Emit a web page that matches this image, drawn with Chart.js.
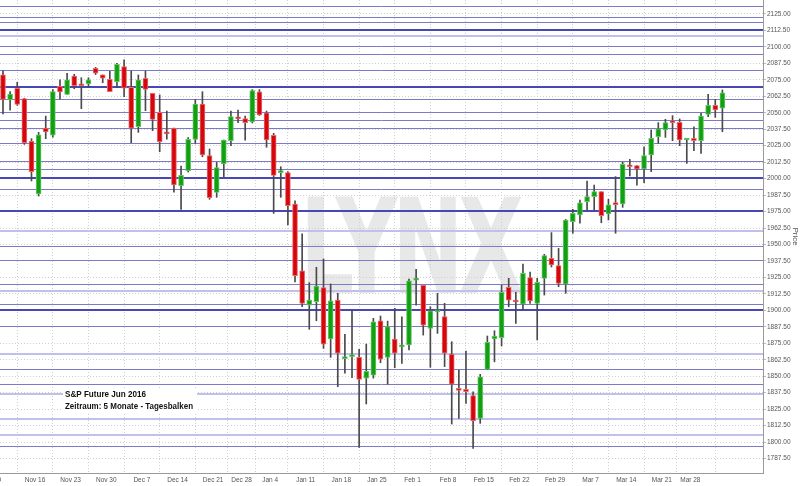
<!DOCTYPE html>
<html>
<head>
<meta charset="utf-8">
<script src="https://cdn.jsdelivr.net/npm/chart.js@4.4.1/dist/chart.umd.min.js"></script>
<style>
  html, body { margin: 0; padding: 0; background: #fff; }
  canvas { display: block; }
</style>
</head>
<body>
<canvas id="chart" width="800" height="486"></canvas>
<script>
// ── daily bars, S&P Future Jun 2016 (Nov 9 – Apr 1) ──
const opens = [2078.7,2059.7,2068.6,2060.7,2028.3,1988.3,2038.4,2032.9,2070.1,2064,
  2077.9,2071.2,2071.8,2083.7,2078.7,2075.4,2073.6,2085,2069.3,2039.4,
  2076.2,2064.8,2050.4,2035,2038.4,1994.6,2006,2029.8,2056.6,2017.4,
  1989.6,2011.1,2028.8,2046.3,2045.5,2043,2065.8,2050,2032.9,2004.5,
  2004.5,1980.7,1929.9,1904,1906.6,1917.2,1878.2,1907.8,1863.3,1864.9,
  1864.3,1848.5,1850.8,1892,1864.3,1878.2,1872.3,1873.7,1922.9,1919,
  1886.3,1898.8,1895.2,1866.8,1839.5,1840,1835.2,1818,1855.2,1878.2,
  1879.2,1917.5,1906.9,1904.6,1924.8,1905.3,1924.3,1939.5,1933.9,1919.9,
  1967.3,1972.4,1982.5,1986.3,1990.1,1973.1,1980.8,1980.8,2010.3,2009.8,
  2007.3,2017.9,2031.8,2036.9,2044,2042.7,2029.3,2030.6,2028.8,2048.8,
  2055.6,2053.4];
const highs = [2081.9,2066,2073.1,2061,2030.3,2035.1,2047.5,2067.6,2074.9,2080,
  2079.2,2076.6,2076.6,2084.5,2078.7,2081.5,2087.6,2090.1,2081.7,2078.7,
  2081.7,2064.8,2063.5,2051.3,2038.4,2009.6,2031.2,2060,2066,2022.5,
  2012.4,2029.3,2051.3,2052.1,2047.5,2067.6,2067.6,2051.3,2034.4,2009,
  2005.3,1983.2,1958,1921,1932.7,1939,1920,1912.9,1881.8,1900.2,
  1870.4,1874.4,1893.9,1895.7,1891.8,1901.5,1895.1,1923.8,1931.1,1919,
  1902.7,1912.9,1905.3,1876.2,1854.7,1869,1838.2,1851.4,1880.5,1884.5,
  1919.2,1924.3,1913.7,1935.2,1929.1,1924.3,1942.5,1959,1947,1969,
  1976.7,1983.7,1998.2,1995.1,1990.1,1984.3,2001.5,2012.4,2014.6,2009.8,
  2024.2,2036.9,2042.5,2045,2047.8,2045.3,2030,2039.4,2049.6,2064,
  2060.2,2067.3];
const lows = [2049.1,2052,2055.6,2026,1998.2,1986.8,2030.3,2031.5,2060.4,2064,
  2068.2,2053.1,2069.3,2079,2072.8,2066,2069.3,2062.2,2027.3,2035.1,
  2051.6,2036.4,2020.4,2029.9,1989.8,1976.7,2005,2026.8,2016.6,1984.3,
  1985.8,2001.5,2025,2042.5,2029.1,2042.2,2048,2023.8,1973.6,1985.8,
  1964.8,1921.5,1902.7,1885.6,1892.1,1871.1,1864.3,1842,1852.2,1848.8,
  1796,1828.9,1848.5,1860.2,1844,1856.4,1859.7,1869.9,1904,1881.2,
  1856.7,1882.5,1857.3,1813.7,1818,1829.4,1795.2,1814.2,1855,1860.9,
  1872.9,1902.7,1890.1,1900.2,1905.3,1877.5,1911.6,1932.9,1917.9,1912.9,
  1958.5,1966.1,1976.1,1976.1,1966.5,1968.6,1958.5,1978.2,2002,1995.1,
  1996.9,2005.3,2026.8,2031.3,2028.8,2025,2011.6,2021.2,2019.2,2047,
  2046.5,2035.6];
const closes = [2060.2,2064.2,2056.4,2027.3,2005.3,2033.3,2035.4,2066,2065.8,2074.9,
  2070.6,2070.5,2074.9,2080,2076.2,2066,2086.8,2068.6,2038.2,2074.9,
  2067.8,2045,2028,2034,1995.2,2002.5,2029.8,2056.6,2017.9,1985.5,
  2008.3,2029.3,2047,2045.3,2042.5,2066.8,2048.3,2029.3,2002.5,2004.8,
  1979.4,1926.3,1905.3,1907.7,1918.4,1874.4,1907.2,1867.4,1863.7,1865.3,
  1847.6,1853.6,1891.3,1863,1887.6,1867.4,1872.6,1922.3,1923.2,1888.8,
  1899.7,1899.1,1867.4,1844,1839.2,1838.2,1816.2,1849.6,1875.7,1880.5,
  1913.7,1907.8,1906.3,1928.1,1907.1,1921.3,1941.5,1934.4,1920.5,1968.6,
  1973.6,1981.7,1986.3,1990.1,1971.8,1980,1980.3,2010.9,2009,2007.3,
  2017.4,2030.6,2037.7,2042.5,2042.5,2029.3,2029.6,2028.8,2047.5,2055.6,
  2052.1,2065.2];

// week starts (bar index) and their labels
const weekStarts = [0,5,10,15,20,25,30,34,38,43,48,53,58,63,68,73,78,83,88,93,97,104];
const weekLabels = ['9','Nov 16','Nov 23','Nov 30','Dec 7','Dec 14','Dec 21','Dec 28','Jan 4','Jan 11',
  'Jan 18','Jan 25','Feb 1','Feb 8','Feb 15','Feb 22','Feb 29','Mar 7','Mar 14','Mar 21','Mar 28',''];

const priceTicks = [1787.5,1800,1812.5,1825,1837.5,1850,1862.5,1875,1887.5,1900,1912.5,1925,1937.5,
  1950,1962.5,1975,1987.5,2000,2012.5,2025,2037.5,2050,2062.5,2075,2087.5,2100,2112.5,2125];

// horizontal support / resistance levels
const thinLevels = [2131.1,2122.5,2118.7,2100.7,2094.4,2082.5,2060.7,2050.4,2044.5,2038.4,2026.8,
  2013.6,2007.3,1991.9,1948.8,1938.2,1920,1905,1888.1,1855.2,1843.8,1797.1];
const boldLevels = [2112.9,2069.3,2000.2,1975.6,1900.2];
const lightLevels = [2108.5,1960.5,1914.7,1866.8,1836.2,1817.5,1805.6];

const titleLines = ['S&P Future Jun 2016', 'Zeitraum: 5 Monate - Tagesbalken'];

const UP = '#12a012', DOWN = '#d4080c';
const isUp = i => closes[i] >= opens[i];

// ── plugins ──
const backdrop = {
  id: 'backdrop',
  beforeDraw(chart) {
    const { ctx, width, height } = chart;
    ctx.save();
    ctx.fillStyle = '#fff';
    ctx.fillRect(0, 0, width, height);
    // LYNX watermark
    ctx.font = 'bold 132px "DejaVu Sans", sans-serif';
    ctx.letterSpacing = '-8px';
    ctx.fillStyle = '#e8e8e8';
    ctx.textBaseline = 'alphabetic';
    const w = ctx.measureText('LYNX').width + 8;
    ctx.translate(300, 293);
    ctx.scale(224 / w, 1);
    ctx.fillText('LYNX', 0, 0);
    ctx.restore();
  }
};

const levels = {
  id: 'levels',
  beforeDatasetsDraw(chart) {
    const { ctx, chartArea: a, scales: { y } } = chart;
    ctx.save();
    ctx.beginPath();
    ctx.rect(a.left, a.top, a.right - a.left, a.bottom - a.top);
    ctx.clip();
    const draw = (vals, color, width) => {
      ctx.strokeStyle = color;
      ctx.lineWidth = width;
      vals.forEach(v => {
        const py = Math.round(y.getPixelForValue(v)) + (width % 2 ? 0.5 : 0);
        ctx.beginPath();
        ctx.moveTo(a.left, py);
        ctx.lineTo(a.right, py);
        ctx.stroke();
      });
    };
    draw(lightLevels, '#c0c0ea', 2);
    draw(thinLevels, '#7a7ac6', 1);
    draw(boldLevels, '#4848b4', 2);
    ctx.restore();
  }
};

const caption = {
  id: 'caption',
  afterDatasetsDraw(chart) {
    const { ctx } = chart;
    ctx.save();
    ctx.fillStyle = '#fff';
    ctx.fillRect(63, 388, 134, 25);
    ctx.fillStyle = '#111';
    ctx.font = 'bold 8.5px "Liberation Sans", Arial, sans-serif';
    ctx.textBaseline = 'alphabetic';
    titleLines.forEach((t, i) => {
      const w = ctx.measureText(t).width;
      ctx.save();
      ctx.translate(65, 397 + i * 12);
      ctx.scale((i === 1 ? 128 : 81) / w, 1);
      ctx.fillText(t, 0, 0);
      ctx.restore();
    });
    ctx.restore();
  }
};

// ── chart ──
new Chart(document.getElementById('chart'), {
  type: 'bar',
  data: {
    datasets: [
      {
        label: 'Range',
        data: opens.map((o, i) => ({ x: i, y: [lows[i], highs[i]] })),
        backgroundColor: '#4a4a4a',
        barThickness: 1,
        grouped: false,
        order: 2
      },
      {
        label: 'Body',
        data: opens.map((o, i) => ({ x: i, y: [o, closes[i]] })),
        backgroundColor: c => isUp(c.dataIndex) ? UP : DOWN,
        borderColor: c => isUp(c.dataIndex) ? '#62c862' : '#ea6a6a',
        borderWidth: 1,
        borderSkipped: false,
        barThickness: 5,
        minBarLength: 2,
        grouped: false,
        order: 1
      }
    ]
  },
  options: {
    responsive: false,
    animation: false,
    layout: { padding: 0 },
    plugins: { legend: { display: false }, tooltip: { enabled: false } },
    scales: {
      x: {
        type: 'linear',
        offset: false,
        min: -0.42,
        max: 106.7,
        afterBuildTicks: s => { s.ticks = weekStarts.map(v => ({ value: v - 0.5 })); },
        afterFit: s => { s.height = 13; s.paddingLeft = 0; s.paddingRight = 0; },
        ticks: {
          autoSkip: false, maxRotation: 0, padding: 3,
          color: '#555', font: { family: 'Liberation Sans', size: 6.5 },
          callback: (v, i) => weekLabels[i]
        },
        grid: { color: '#cfcfcf', drawTicks: false },
        border: { color: '#9a9a9a', width: 1, dash: [1, 2] }
      },
      y: {
        position: 'right',
        min: 1776.5,
        max: 2135.6,
        afterBuildTicks: s => { s.ticks = priceTicks.map(v => ({ value: v })); },
        afterFit: s => { s.width = 37; s.paddingTop = 0; s.paddingBottom = 0; },
        ticks: {
          padding: 1,
          color: '#555', font: { family: 'Liberation Sans', size: 6.5 },
          callback: v => v.toFixed(2)
        },
        grid: { color: '#cfcfcf', tickLength: 3, tickColor: '#bbb' },
        border: { color: '#9a9a9a', width: 1, dash: [1, 2] },
        title: {
          display: true, text: 'Price', color: '#555',
          font: { family: 'Liberation Sans', size: 8 },
          padding: { top: 0, bottom: 1 }
        }
      }
    }
  },
  plugins: [backdrop, levels, caption]
});
</script>
</body>
</html>
